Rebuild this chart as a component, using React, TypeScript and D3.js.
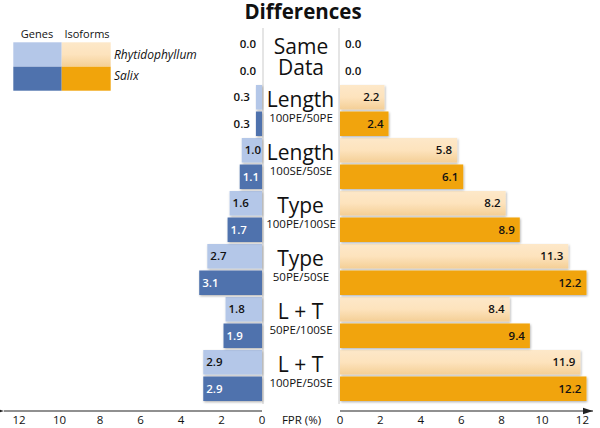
import React from "react";
import * as d3 from "d3";

const mainLabels = ["Same", "Length", "Length", "Type", "Type", "L + T", "L + T"];
const subLabels = ["Data", "100PE/50PE", "100SE/50SE", "100PE/100SE", "50PE/50SE", "50PE/100SE", "100PE/50SE"];
const genesRhyt = [0.0, 0.3, 1.0, 1.6, 2.7, 1.8, 2.9];
const genesSalix = [0.0, 0.3, 1.1, 1.7, 3.1, 1.9, 2.9];
const isoRhyt = [0.0, 2.2, 5.8, 8.2, 11.3, 8.4, 11.9];
const isoSalix = [0.0, 2.4, 6.1, 8.9, 12.2, 9.4, 12.2];
const ticks = [0, 2, 4, 6, 8, 10, 12];

const W = 600;
const H = 428;
const FONT = "'Open Sans', 'DejaVu Sans', sans-serif";

const C = {
  lightBlue: "#b4c7e8",
  darkBlue: "#4f72ad",
  orange: "#f1a40b",
  peachTop: "#fde8c9",
  peachBot: "#f4cf96",
};

export default function App() {
  const xL = d3.scaleLinear().domain([0, 12]).range([262, 19]);
  const xR = d3.scaleLinear().domain([0, 12]).range([340, 582.4]);
  const rows = d3.range(mainLabels.length);
  const y = d3.scaleBand<number>().domain(rows).range([32, 32 + 53 * rows.length]).paddingInner(0).paddingOuter(0);
  const barH = 24.5;
  const offDark = 26.5;
  const axisY = 411;
  const labelSize = 11.5;

  const leftBar = (v: number, i: number, dark: boolean) => {
    const y0 = (y(i) as number) + (dark ? offDark : 0);
    const x0 = xL(v);
    const w = xL(0) - x0;
    const inside = v >= 0.9;
    return (
      <g key={`l${i}${dark}`}>
        {w > 0 && (
          <rect x={x0} y={y0} width={w} height={barH} fill={dark ? C.darkBlue : C.lightBlue} filter="url(#shadow)" />
        )}
        <text
          x={inside ? x0 + 3 : x0 - 6}
          y={y0 + barH / 2 + 4}
          textAnchor={inside ? "start" : "end"}
          fontSize={labelSize}
          fontWeight={600}
          fill={inside && dark ? "#ffffff" : "#111"}
        >
          {v.toFixed(1)}
        </text>
      </g>
    );
  };

  const rightBar = (v: number, i: number, dark: boolean) => {
    const y0 = (y(i) as number) + (dark ? offDark : 0);
    const x0 = xR(0);
    const x1 = xR(v);
    const w = x1 - x0;
    const inside = v >= 1.5;
    return (
      <g key={`r${i}${dark}`}>
        {w > 0 && (
          <rect x={x0} y={y0} width={w} height={barH} fill={dark ? C.orange : "url(#peach)"} filter="url(#shadow)" />
        )}
        <text
          x={inside ? x1 - 5 : x0 + 5}
          y={y0 + barH / 2 + 4}
          textAnchor={inside ? "end" : "start"}
          fontSize={labelSize}
          fontWeight={600}
          fill="#111"
        >
          {v.toFixed(1)}
        </text>
      </g>
    );
  };

  return (
    <svg
      width={W}
      height={H}
      style={{ position: "absolute", left: 0, top: 0, background: "#fff" }}
      fontFamily={FONT}
    >
      <defs>
        <linearGradient id="peach" x1="0" y1="0" x2="0" y2="1">
          <stop offset="0" stopColor={C.peachTop} />
          <stop offset="0.5" stopColor="#fde3bd" />
          <stop offset="1" stopColor={C.peachBot} />
        </linearGradient>
        <filter id="shadow" x="-10%" y="-20%" width="130%" height="160%">
          <feDropShadow dx="0.8" dy="1.2" stdDeviation="0.8" floodColor="#000" floodOpacity="0.3" />
        </filter>
        <marker id="arrowL" markerWidth="10" markerHeight="8" refX="0" refY="4" orient="auto-start-reverse" markerUnits="userSpaceOnUse">
          <path d="M0,4 L10,0.8 L10,7.2 Z" fill="#222" />
        </marker>
        <marker id="arrowR" markerWidth="10" markerHeight="8" refX="10" refY="4" orient="0" markerUnits="userSpaceOnUse">
          <path d="M10,4 L0,0.8 L0,7.2 Z" fill="#222" />
        </marker>
      </defs>

      {/* title */}
      <text x={303} y={19} textAnchor="middle" fontSize={20.5} fontWeight={700} fill="#111">
        Differences
      </text>

      {/* legend */}
      <text x={37} y={38} textAnchor="middle" fontSize={11} fill="#111">Genes</text>
      <text x={87} y={38} textAnchor="middle" fontSize={11} fill="#111">Isoforms</text>
      <rect x={13.3} y={42.3} width={48.4} height={24.4} fill={C.lightBlue} />
      <rect x={61.7} y={42.3} width={49} height={24.4} fill="url(#peach)" />
      <rect x={13.3} y={66.7} width={48.4} height={24} fill={C.darkBlue} />
      <rect x={61.7} y={66.7} width={49} height={24} fill={C.orange} />
      <text x={114} y={58.5} fontSize={12} fontStyle="italic" fill="#111">Rhytidophyllum</text>
      <text x={114} y={80} fontSize={12} fontStyle="italic" fill="#111">Salix</text>

      {/* center panel lines */}
      <line x1={263} x2={263} y1={28} y2={404} stroke="#d4d4d4" strokeWidth={1.2} />
      <line x1={339} x2={339} y1={28} y2={404} stroke="#d4d4d4" strokeWidth={1.2} />

      {/* bars */}
      {rows.map((i) => leftBar(genesRhyt[i], i, false))}
      {rows.map((i) => leftBar(genesSalix[i], i, true))}
      {rows.map((i) => rightBar(isoRhyt[i], i, false))}
      {rows.map((i) => rightBar(isoSalix[i], i, true))}

      {/* center labels */}
      {rows.map((i) => {
        const top = y(i) as number;
        if (i === 0) {
          return (
            <g key={`c${i}`}>
              <text x={301} y={top + 22.3} textAnchor="middle" fontSize={21} fill="#111">{mainLabels[i]}</text>
              <text x={301} y={top + 43} textAnchor="middle" fontSize={21} fill="#111">{subLabels[i]}</text>
            </g>
          );
        }
        return (
          <g key={`c${i}`}>
            <text x={300.5} y={top + 21.7} textAnchor="middle" fontSize={21} fill="#111">{mainLabels[i]}</text>
            <text x={301} y={top + 37} textAnchor="middle" fontSize={11.5} fill="#111">{subLabels[i]}</text>
          </g>
        );
      })}

      {/* axes */}
      <line x1={xL(0)} x2={4} y1={axisY} y2={axisY} stroke="#222" strokeWidth={1.2} markerEnd="url(#arrowL)" />
      <line x1={xR(0)} x2={593} y1={axisY} y2={axisY} stroke="#222" strokeWidth={1.2} markerEnd="url(#arrowR)" />
      {ticks.map((t) => (
        <text key={`tl${t}`} x={xL(t)} y={423.5} textAnchor="middle" fontSize={11.5} fill="#111">{t}</text>
      ))}
      {ticks.map((t) => (
        <text key={`tr${t}`} x={xR(t)} y={423.5} textAnchor="middle" fontSize={11.5} fill="#111">{t}</text>
      ))}
      <text x={301.5} y={423.5} textAnchor="middle" fontSize={11.5} fill="#111">FPR (%)</text>
    </svg>
  );
}
